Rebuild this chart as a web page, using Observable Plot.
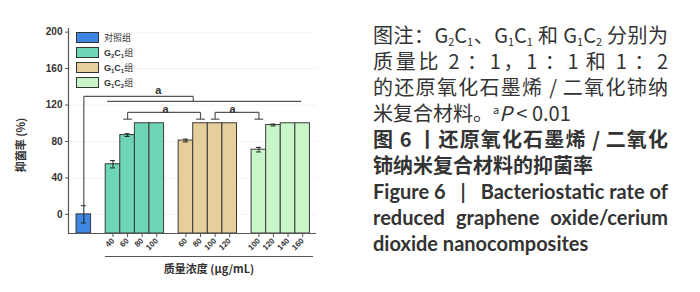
<!DOCTYPE html>
<html><head><meta charset="utf-8">
<script src="https://cdn.jsdelivr.net/npm/d3@7"></script>
<script src="https://cdn.jsdelivr.net/npm/@observablehq/plot@0.6"></script>
<style>
html,body{margin:0;padding:0;background:#fff}
body{width:700px;height:292px;overflow:hidden;position:relative;font-family:"Noto Sans CJK SC",sans-serif;color:#333}
#chart{position:absolute;left:0;top:0}
#legend{position:absolute;left:76px;top:30px;font-family:"Liberation Sans","Noto Sans CJK SC",sans-serif;font-size:9px;color:#333}
#legend .row{display:flex;align-items:center;height:15px}
#legend .sw{display:inline-block;width:21px;height:9px;border:1px solid #333;margin-right:5px}
#legend b{font-weight:bold}
#legend sub{font-size:6px;vertical-align:-2px}
#ylab{position:absolute;left:20px;top:145px;transform:translate(-50%,-50%) rotate(-90deg);white-space:nowrap;font-size:11px;font-weight:bold;color:#333}
#xline{position:absolute;left:105px;top:256px;width:208px;border-top:1.5px solid #555}
#xlab{position:absolute;left:209px;top:268px;transform:translate(-50%,-50%);white-space:nowrap;font-size:11px;font-weight:bold;color:#333}
#caption{position:absolute;left:373px;top:22px;width:295px;color:#333}
#caption .l{height:26px;line-height:26px;font-size:20px;white-space:nowrap;overflow:visible}
#caption .j{text-align:justify;text-align-last:justify}
#caption .b{font-weight:bold}
#caption .en{font-family:Lato,"Open Sans",sans-serif;font-weight:bold;font-size:20px}
#caption sub{font-size:11px;vertical-align:-3px;line-height:0}
#caption sup{font-size:11px;vertical-align:7px;line-height:0}
</style></head>
<body>
<div id="chart"></div>
<div id="legend"></div>
<div id="ylab">抑菌率 (%)</div>
<div id="xline"></div>
<div id="xlab">质量浓度 (μg/mL)</div>
<div id="caption">
 <div class="l j">图注：G<sub>2</sub>C<sub>1</sub>、G<sub>1</sub>C<sub>1</sub> 和 G<sub>1</sub>C<sub>2</sub> 分别为</div>
 <div class="l j">质量比 2 ：1，1 ：1 和 1 ：2</div>
 <div class="l j">的还原氧化石墨烯 / 二氧化铈纳</div>
 <div class="l">米复合材料。<sup>a</sup><i>P</i> &lt; 0.01</div>
 <div class="l j b">图 6 丨还原氧化石墨烯 / 二氧化</div>
 <div class="l b">铈纳米复合材料的抑菌率</div>
 <div class="l j en">Figure 6 &nbsp; | &nbsp; Bacteriostatic rate of</div>
 <div class="l j en">reduced graphene oxide/cerium</div>
 <div class="l en">dioxide nanocomposites</div>
</div>
<script>
// ---- data ----
const groups = ["对照组", "G2C1组", "G1C1组", "G1C2组"];
const colors = ["#3d86e2", "#6fd5b7", "#e6cf9a", "#c9f6c8"];
const concentrations = [[""], ["40", "60", "80", "100"], ["60", "80", "100", "120"], ["100", "120", "140", "160"]];
const values = [[0], [55, 87, 100, 100], [81, 100, 100, 100], [71, 98, 100, 100]];
const errors = [[9.5], [4, 1.5, 0, 0], [1.5, 0, 0, 0], [2.5, 1, 0, 0]];
const yTicks = [0, 40, 80, 120, 160, 200];

// build rows (one slot per bar, one empty slot between groups)
const rows = [];
let slot = 0;
groups.forEach((g, gi) => {
  values[gi].forEach((v, j) => {
    rows.push({group: g, slot, value: v, err: errors[gi][j], conc: concentrations[gi][j]});
    slot++;
  });
  slot++;
});
const slotOf = (gi, j) => rows.filter(d => d.group === groups[gi])[j].slot;
const ctrl = rows[0];

// significance annotations (value units)
const sigTopY = 129.5, sigLineY = 124, sigY = 112, sigEndY = 104.5;
const topBracket = {x1: slotOf(0, 0), x2: 7.5, lx1: 1.6, lx2: 14.9};
const pairBrackets = [
  {x1: slotOf(1, 1), x2: slotOf(2, 1)},
  {x1: slotOf(2, 2), x2: slotOf(3, 0)}
];

const yMin = -21, yMax = 204, xMin = -1.05, xMax = 15.95;
const lineStroke = "#555";
const errs = rows.filter(d => d.err > 0);
const tickRows = rows.filter(d => d.conc);

const segs = [];
// top bracket
segs.push({x1: topBracket.x1, x2: topBracket.x1, y1: ctrl.value + ctrl.err, y2: sigTopY});
segs.push({x1: topBracket.x1, x2: topBracket.x2, y1: sigTopY, y2: sigTopY});
segs.push({x1: topBracket.x2, x2: topBracket.x2, y1: sigTopY, y2: sigLineY});
segs.push({x1: topBracket.lx1, x2: topBracket.lx2, y1: sigLineY, y2: sigLineY});
pairBrackets.forEach(b => {
  segs.push({x1: b.x1, x2: b.x2, y1: sigY, y2: sigY});
  segs.push({x1: b.x1, x2: b.x1, y1: sigY, y2: sigEndY});
  segs.push({x1: b.x2, x2: b.x2, y1: sigY, y2: sigEndY});
  segs.push({x1: b.x1 - 0.3, x2: b.x1 + 0.3, y1: sigEndY, y2: sigEndY});
  segs.push({x1: b.x2 - 0.3, x2: b.x2 + 0.3, y1: sigEndY, y2: sigEndY});
});
const labels = [
  {x: 5.1, y: sigTopY + 6},
  {x: (pairBrackets[0].x1 + pairBrackets[0].x2) / 2 + 0.1, y: sigY + 3},
  {x: (pairBrackets[1].x1 + pairBrackets[1].x2) / 2 - 0.3, y: sigY + 3}
];

const chart = Plot.plot({
  width: 345, height: 292,
  marginLeft: 68, marginRight: 29, marginTop: 28, marginBottom: 59,
  style: {fontFamily: "Liberation Sans, Arial, sans-serif", color: "#333", background: "transparent"},
  x: {type: "linear", domain: [xMin, xMax], axis: null},
  y: {domain: [yMin, yMax], axis: null},
  color: {domain: groups, range: colors},
  marks: [
    Plot.ruleY(yTicks, {x1: xMin, x2: xMax, stroke: "#000", strokeOpacity: 0.05}),
    Plot.rectY(rows, {x1: d => d.slot - 0.5, x2: d => d.slot + 0.5, y1: yMin, y2: "value", fill: "group", stroke: "#3a3a3a", strokeWidth: 1}),
    Plot.ruleX(errs, {x: "slot", y1: d => d.value - d.err, y2: d => d.value + d.err, stroke: "#222", strokeWidth: 1}),
    Plot.ruleY(errs, {y: d => d.value + d.err, x1: d => d.slot - 0.17, x2: d => d.slot + 0.17, stroke: "#222", strokeWidth: 1}),
    Plot.ruleY(errs, {y: d => d.value - d.err, x1: d => d.slot - 0.17, x2: d => d.slot + 0.17, stroke: "#222", strokeWidth: 1}),
    Plot.link(segs, {x1: "x1", x2: "x2", y1: "y1", y2: "y2", stroke: lineStroke, strokeWidth: 1.2}),
    Plot.text(labels, {x: "x", y: "y", text: () => "a", fontSize: 11, fontWeight: "bold", fill: "#333"}),
    Plot.ruleX([xMin], {y1: yMin, y2: yMax, stroke: lineStroke, strokeWidth: 1.2}),
    Plot.ruleY([yMin], {x1: xMin, x2: xMax, stroke: lineStroke, strokeWidth: 1.2}),
    Plot.axisY({ticks: yTicks, tickSize: 3, tickPadding: 3, label: null, fontSize: 10, fontWeight: "bold", stroke: lineStroke}),
    Plot.axisX({ticks: tickRows.map(d => d.slot), tickFormat: s => rows.find(d => d.slot === s).conc,
      tickRotate: -45, tickSize: 4, tickPadding: 2, label: null, fontSize: 8, fontWeight: "bold", stroke: lineStroke})
  ]
});
document.getElementById("chart").appendChild(chart);

// legend
const leg = document.getElementById("legend");
groups.forEach((g, i) => {
  const row = document.createElement("div");
  row.className = "row";
  const sw = document.createElement("span");
  sw.className = "sw";
  sw.style.background = colors[i];
  row.appendChild(sw);
  const t = document.createElement("span");
  t.innerHTML = g.replace(/([GC])(\d)/g, "<b>$1</b><sub><b>$2</b></sub>");
  row.appendChild(t);
  leg.appendChild(row);
});
</script>
</body></html>
